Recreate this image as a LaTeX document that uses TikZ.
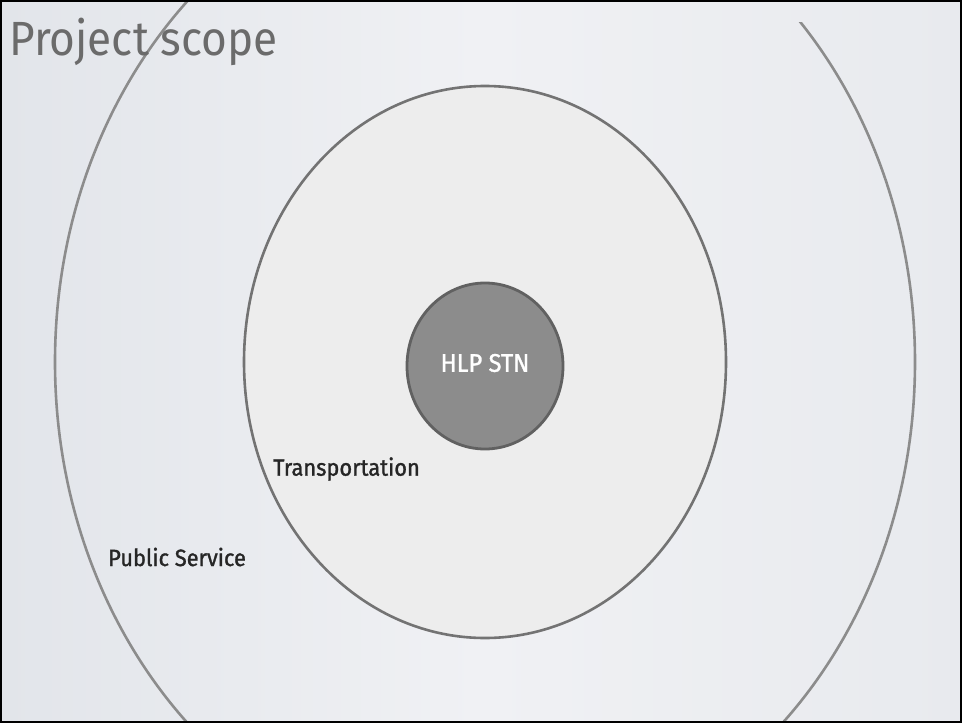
\documentclass[tikz,border=0pt]{standalone}
\usepackage{fontspec}
\usetikzlibrary{shapes.geometric}
\setmainfont{Fira Sans}
\newfontfamily\medfont[FakeBold=1.3]{Fira Sans}
\definecolor{bgl}{RGB}{226,229,234}
\definecolor{bgm}{RGB}{240,241,244}
\definecolor{bgr}{RGB}{232,234,238}
\begin{document}
\begin{tikzpicture}[x=1pt,y=-1pt,
  ring/.style={draw=black!50, line width=2.6pt},
  lbl/.style={inner sep=0pt, anchor=west, text=black!85, font=\medfont\fontsize{23.5}{26}\selectfont, xscale=0.93, transform shape}]
\useasboundingbox (0,0) rectangle (962,723);
\begin{scope}
\clip (0,0) rectangle (962,723);
\shade[left color=bgl, right color=bgr, middle color=bgm] (0,0) rectangle (962,723);
\end{scope}
\begin{scope}
\clip (0,0) -- (700,0) -- (700,22) -- (962,22) -- (962,723) -- (0,723) -- cycle;
\draw[ring, draw=black!45] (485,362) ellipse [x radius=430, y radius=500];
\end{scope}
\draw[ring, fill=black!7, draw=black!55] (485,362) ellipse [x radius=241, y radius=276];
\node[ellipse, draw=black!62, line width=2.8pt, fill=black!45, minimum width=156pt, minimum height=166pt, inner sep=0pt] (hub) at (485,366) {};
\node[inner sep=0pt, text=white, font=\medfont\fontsize{25.5}{28}\selectfont, xscale=0.93, transform shape] (hubtext) at (485,363) {HLP STN};
\node[lbl] (trans) at (273,469) {Transportation};
\node[lbl] (pub) at (108,557) {Public Service};
\node[inner sep=0pt, anchor=west, text=black!58, font=\fontsize{48}{52}\selectfont, xscale=0.92, transform shape] (title) at (9,42) {Project scope};
\draw[line width=4pt, black] (0,0) rectangle (962,723);
\end{tikzpicture}
\end{document}
